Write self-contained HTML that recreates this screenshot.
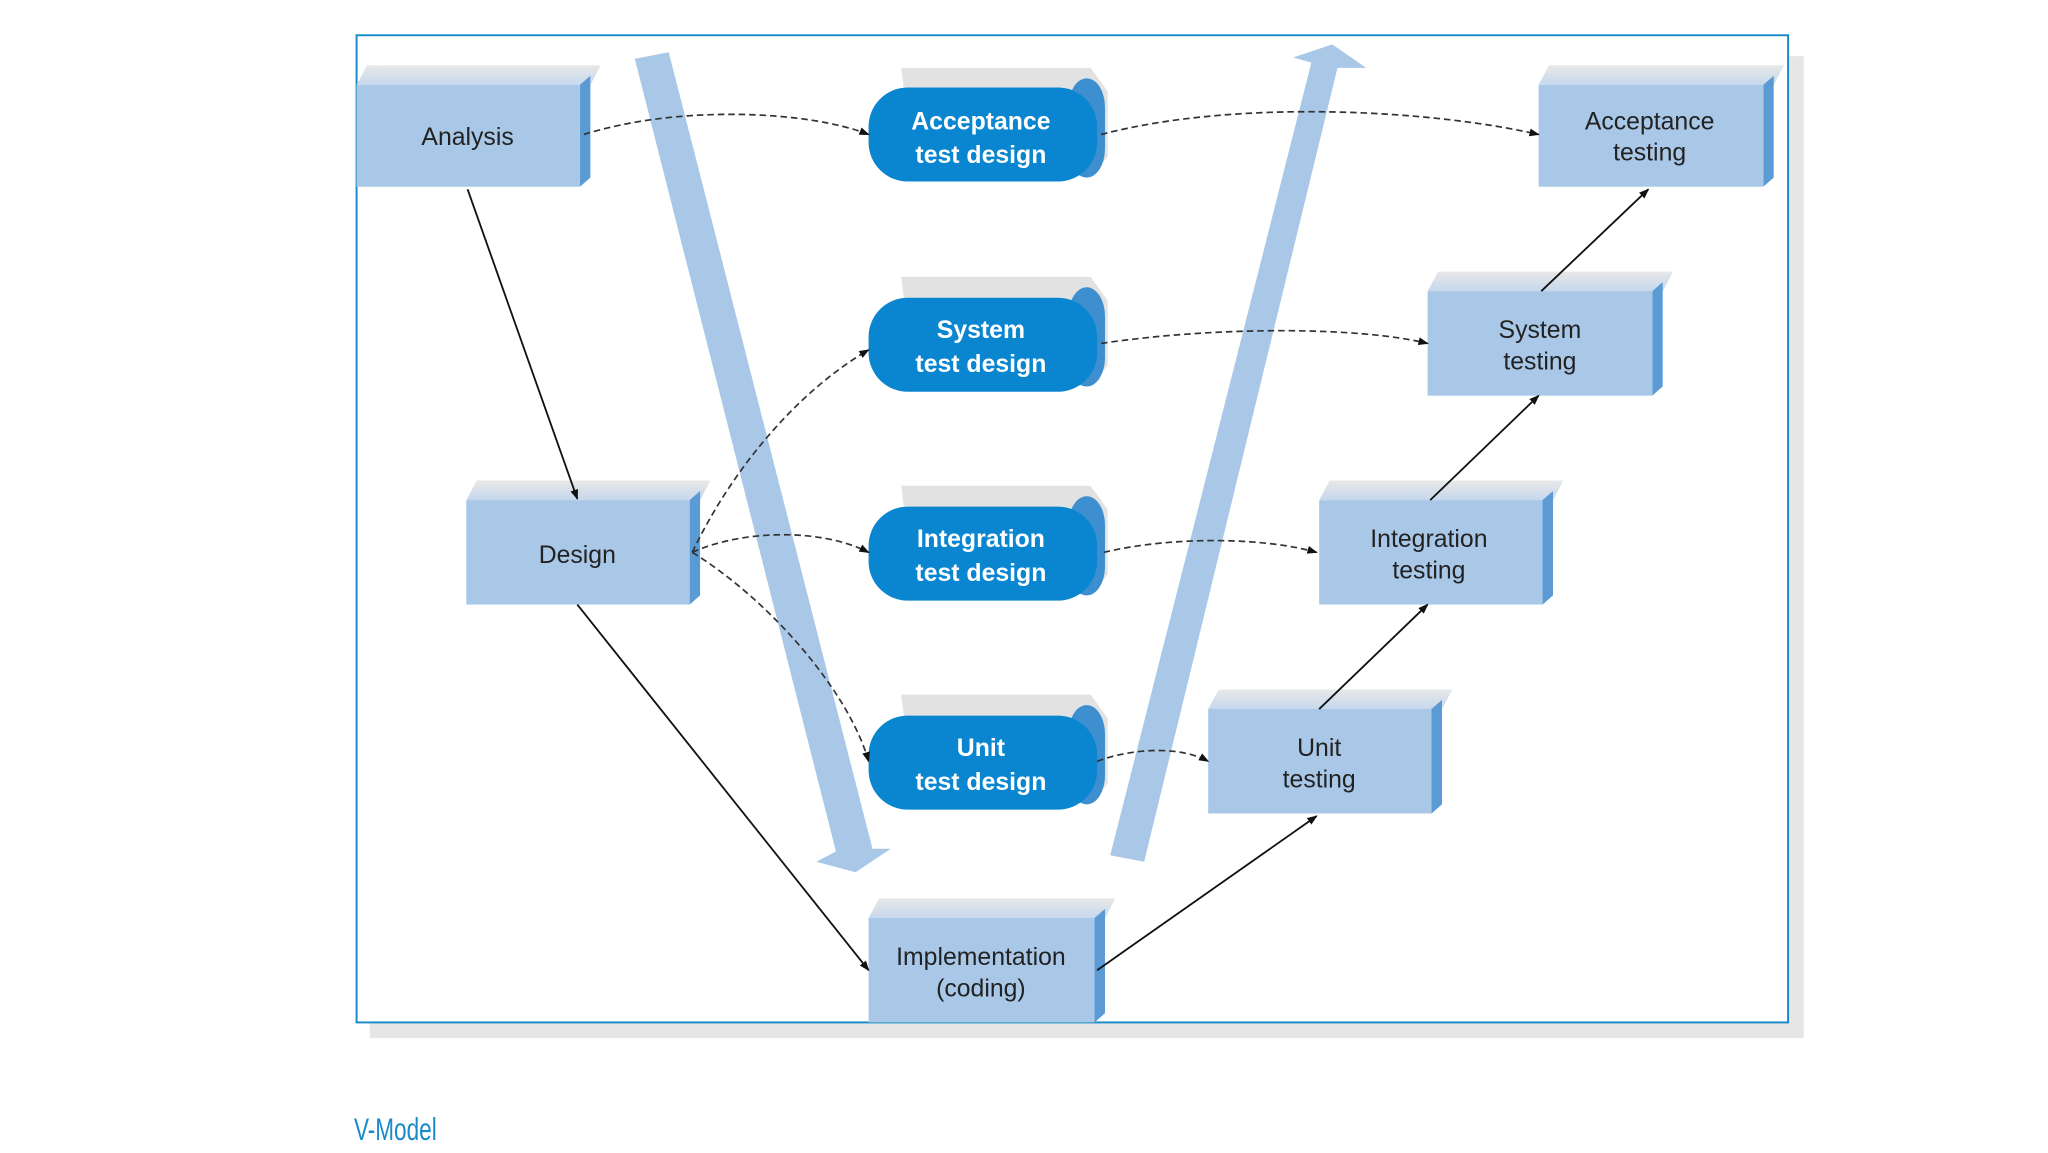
<!DOCTYPE html>
<html><head><style>html,body{margin:0;padding:0;background:#fff}svg{display:block}</style></head>
<body>
<svg width="2048" height="1153" viewBox="0 0 1568 883" preserveAspectRatio="none" xmlns="http://www.w3.org/2000/svg" font-family="Liberation Sans, Arial, sans-serif">
<defs>
<marker id="a" markerWidth="8" markerHeight="8" refX="7" refY="4" orient="auto" markerUnits="userSpaceOnUse"><path d="M0,1 L8,4 L0,7 Z" fill="#111"/></marker>
<linearGradient id="top" x1="0" y1="0" x2="0" y2="1"><stop offset="0" stop-color="#e8e8e8"/><stop offset="1" stop-color="#c6d8ec"/></linearGradient>
</defs>
<rect x="283" y="43" width="1098" height="752" fill="#e6e6e6"/>
<rect x="273" y="27" width="1096" height="756" fill="#fff" stroke="#1a8ac8" stroke-width="1.5"/>
<polygon points="486,45 512,40 668,650 682,650 655,668 625,660 640,652" fill="#a9c8e8"/>
<polygon points="850,655 876,660 1024,52 1046,52 1020,34 990,44 1004,48" fill="#a9c8e8"/>
<g font-size="19" fill="#222" text-anchor="middle">
<polygon points="273,65 281,50 460,50 452,65" fill="url(#top)"/><polygon points="444,65 452,58 452,136 444,143" fill="#5b9bd5"/><rect x="273" y="65" width="171" height="78" fill="#a9c8e8"/>
<text x="358" y="111">Analysis</text>
<polygon points="357,383 365,368 544,368 536,383" fill="url(#top)"/><polygon points="528,383 536,376 536,456 528,463" fill="#5b9bd5"/><rect x="357" y="383" width="171" height="80" fill="#a9c8e8"/>
<text x="442" y="431">Design</text>
<polygon points="665,703 673,688 854,688 846,703" fill="url(#top)"/><polygon points="838,703 846,696 846,776 838,783" fill="#5b9bd5"/><rect x="665" y="703" width="173" height="80" fill="#a9c8e8"/>
<text x="751" y="739">Implementation</text><text x="751" y="763">(coding)</text>
<polygon points="925,543 933,528 1112,528 1104,543" fill="url(#top)"/><polygon points="1096,543 1104,536 1104,616 1096,623" fill="#5b9bd5"/><rect x="925" y="543" width="171" height="80" fill="#a9c8e8"/>
<text x="1010" y="579">Unit</text><text x="1010" y="603">testing</text>
<polygon points="1010,383 1018,368 1197,368 1189,383" fill="url(#top)"/><polygon points="1181,383 1189,376 1189,456 1181,463" fill="#5b9bd5"/><rect x="1010" y="383" width="171" height="80" fill="#a9c8e8"/>
<text x="1094" y="419">Integration</text><text x="1094" y="443">testing</text>
<polygon points="1093,223 1101,208 1281,208 1273,223" fill="url(#top)"/><polygon points="1265,223 1273,216 1273,296 1265,303" fill="#5b9bd5"/><rect x="1093" y="223" width="172" height="80" fill="#a9c8e8"/>
<text x="1179" y="259">System</text><text x="1179" y="283">testing</text>
<polygon points="1178,65 1186,50 1366,50 1358,65" fill="url(#top)"/><polygon points="1350,65 1358,58 1358,136 1350,143" fill="#5b9bd5"/><rect x="1178" y="65" width="172" height="78" fill="#a9c8e8"/>
<text x="1263" y="99">Acceptance</text><text x="1263" y="123">testing</text>
</g>
<g font-size="19" font-weight="bold" fill="#fff" text-anchor="middle">
<g><path d="M690,52 L835,52 L848,70 L848,120 L836,135 L700,135 Z" fill="#e2e2e2"/><rect x="818" y="60" width="28" height="76" rx="22" fill="#3d8fd0"/><rect x="665" y="67" width="175" height="72" rx="30" fill="#0a86d0"/><text x="751" y="99">Acceptance</text><text x="751" y="125">test design</text></g>
<g><path d="M690,212 L835,212 L848,230 L848,280 L836,295 L700,295 Z" fill="#e2e2e2"/><rect x="818" y="220" width="28" height="76" rx="22" fill="#3d8fd0"/><rect x="665" y="228" width="175" height="72" rx="30" fill="#0a86d0"/><text x="751" y="259">System</text><text x="751" y="285">test design</text></g>
<g><path d="M690,372 L835,372 L848,390 L848,440 L836,455 L700,455 Z" fill="#e2e2e2"/><rect x="818" y="380" width="28" height="76" rx="22" fill="#3d8fd0"/><rect x="665" y="388" width="175" height="72" rx="30" fill="#0a86d0"/><text x="751" y="419">Integration</text><text x="751" y="445">test design</text></g>
<g><path d="M690,532 L835,532 L848,550 L848,600 L836,615 L700,615 Z" fill="#e2e2e2"/><rect x="818" y="540" width="28" height="76" rx="22" fill="#3d8fd0"/><rect x="665" y="548" width="175" height="72" rx="30" fill="#0a86d0"/><text x="751" y="579">Unit</text><text x="751" y="605">test design</text></g>
</g>
<g stroke="#111" stroke-width="1.4" fill="none" marker-end="url(#a)">
<line x1="358" y1="145" x2="442" y2="382"/>
<line x1="442" y1="463" x2="665" y2="743"/>
<line x1="840" y1="743" x2="1008" y2="625"/>
<line x1="1010" y1="543" x2="1093" y2="463"/>
<line x1="1095" y1="383" x2="1178" y2="303"/>
<line x1="1180" y1="223" x2="1262" y2="145"/>
</g>
<g stroke="#333" stroke-width="1.3" fill="none" stroke-dasharray="5,3" marker-end="url(#a)">
<path d="M447,103 C520,80 620,85 665,103"/>
<path d="M843,103 C950,75 1100,85 1178,103"/>
<path d="M843,263 C930,250 1040,250 1093,263"/>
<path d="M845,423 C900,410 970,412 1008,423"/>
<path d="M840,583 C870,572 905,572 925,583"/>
<path d="M530,423 C560,360 610,300 665,268"/>
<path d="M530,423 C570,405 630,405 665,423"/>
<path d="M530,423 C590,460 650,530 665,583"/>
</g>
<text x="271" y="873" font-size="24" fill="#1a8ac8" font-family="Liberation Sans Narrow, Liberation Sans, sans-serif" transform="translate(271,0) scale(0.72,1) translate(-271,0)">V-Model</text>
</svg>
</body></html>
